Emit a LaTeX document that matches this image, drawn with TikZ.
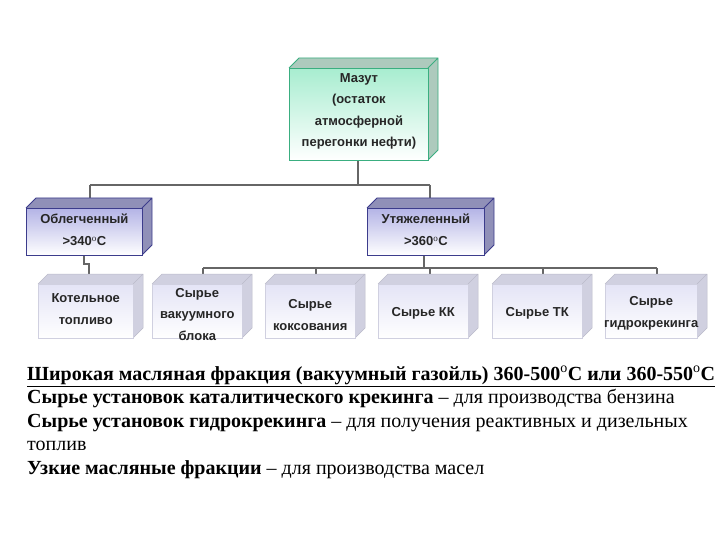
\documentclass[tikz,border=0pt]{standalone}
\usepackage{fontspec}
\setmainfont{Liberation Serif}
\newfontfamily\lab{Liberation Sans}
\usetikzlibrary{calc}
\definecolor{mintA}{HTML}{A8EDD0}
\definecolor{mintE}{HTML}{3AAE80}
\definecolor{lavA}{HTML}{B4B4E6}
\definecolor{lavE}{HTML}{3C3C8C}
\definecolor{palA}{HTML}{E4E4F6}
\definecolor{palE}{HTML}{D0D0E0}
\newcommand\boxtd[6]{% name, x1,y1,x2,y2 (px), style prefix
  \fill[#6side] (#2pt+0pt,-#3pt) -- ++(10pt,10pt) -- (#4pt+10pt,-#3pt+10pt) -- (#4pt+10pt,-#5pt+10pt) -- (#4pt,-#5pt) -- (#4pt,-#3pt) -- cycle;
  \draw[#6edge] (#2pt,-#3pt) -- ++(10pt,10pt) -- (#4pt+10pt,-#3pt+10pt) -- (#4pt+10pt,-#5pt+10pt) -- (#4pt,-#5pt) (#4pt,-#3pt) -- ++(10pt,10pt);
  \node[#6front, minimum width=#4pt-#2pt, minimum height=#5pt-#3pt, anchor=north west] (#1) at (#2pt,-#3pt) {};
}
\tikzset{
 mside/.style={fill=mintA!70!black!60!white},
 medge/.style={draw=mintE,line width=0.8pt},
 mfront/.style={draw=mintE,line width=0.8pt,top color=mintA,bottom color=white,inner sep=0},
 lside/.style={fill=lavA!80!black},
 ledge/.style={draw=lavE,line width=0.8pt},
 lfront/.style={draw=lavE,line width=0.8pt,top color=lavA,bottom color=white,inner sep=0},
 pside/.style={fill=palE},
 pedge/.style={draw=palE!90!black,line width=0.5pt},
 pfront/.style={draw=palE,line width=0.5pt,top color=palA,bottom color=white,inner sep=0},
 txt/.style={font=\lab\bfseries\fontsize{13}{21.5}\selectfont,align=center,text=black!85},
 conn/.style={draw=black!60,line width=1.3pt},
}
\begin{document}
\begin{tikzpicture}[x=1pt,y=1pt]
\useasboundingbox (0,0) rectangle (720,-540);
\fill[white] (0,0) rectangle (720,-540);
% connectors
\coordinate (h1) at (90,-185); \coordinate (h2) at (430,-185);
\coordinate (b1) at (203,-268); \coordinate (b2) at (657,-268);
\draw[conn] (358,-160) -- (358,-185);
\draw[conn] (h1) -- (h2);
\draw[conn] (h1) -- (90,-200); \draw[conn] (h2) -- (430,-200);
\draw[conn] (84,-255) -- (84,-264) -- (89,-264) -- (89,-275);
\draw[conn] (424,-255) -- (424,-268);
\draw[conn] (b1) -- (b2);
\foreach \x in {203,316,430,543,657} \draw[conn] (\x,-268) -- (\x,-276);
\boxtd{maz}{289}{68}{428}{160}{m}
\boxtd{ob}{26}{208}{142}{255}{l}
\boxtd{ut}{367}{208}{484}{255}{l}
\boxtd{k1}{38}{284}{133}{338}{p}
\boxtd{k2}{152}{284}{242}{338}{p}
\boxtd{k3}{265}{284}{355}{338}{p}
\boxtd{k4}{378}{284}{468}{338}{p}
\boxtd{k5}{492}{284}{582}{338}{p}
\boxtd{k6}{605}{284}{697}{338}{p}
\node[txt] at ($(maz)+(0,3)$) {Мазут\\(остаток\\атмосферной\\перегонки нефти)};
\node[txt] at ($(ob)+(0,2)$) {Облегченный\\>340$^{\mathrm{o}}$C};
\node[txt] at ($(ut)+(0,2)$) {Утяжеленный\\>360$^{\mathrm{o}}$C};
\node[txt] at ($(k1)+(0,2)$) {Котельное\\топливо};
\node[txt] at ($(k2)+(0,-3)$) {Сырье\\вакуумного\\блока};
\node[txt] at ($(k3)+(0,-4)$) {Сырье\\коксования};
\node[txt] at ($(k4)+(0,-2)$) {Сырье КК};
\node[txt] at ($(k5)+(0,-2)$) {Сырье ТК};
\node[txt] at ($(k6)+(0,-2)$) {Сырье\\гидрокрекинга};
\node[anchor=north west,inner sep=0,align=left,font=\fontsize{20}{23.5}\selectfont] (para) at (27,-366) {%
\textbf{\underline{Широкая масляная фракция (вакуумный газойль) 360-500$^{\mathrm{o}}$С или 360-550$^{\mathrm{o}}$С}}\\
\textbf{Сырье установок каталитического крекинга} – для производства бензина\\
\textbf{Сырье установок гидрокрекинга} – для получения реактивных и дизельных\\
топлив\\
\textbf{Узкие масляные фракции} – для производства масел};
\end{tikzpicture}
\end{document}
